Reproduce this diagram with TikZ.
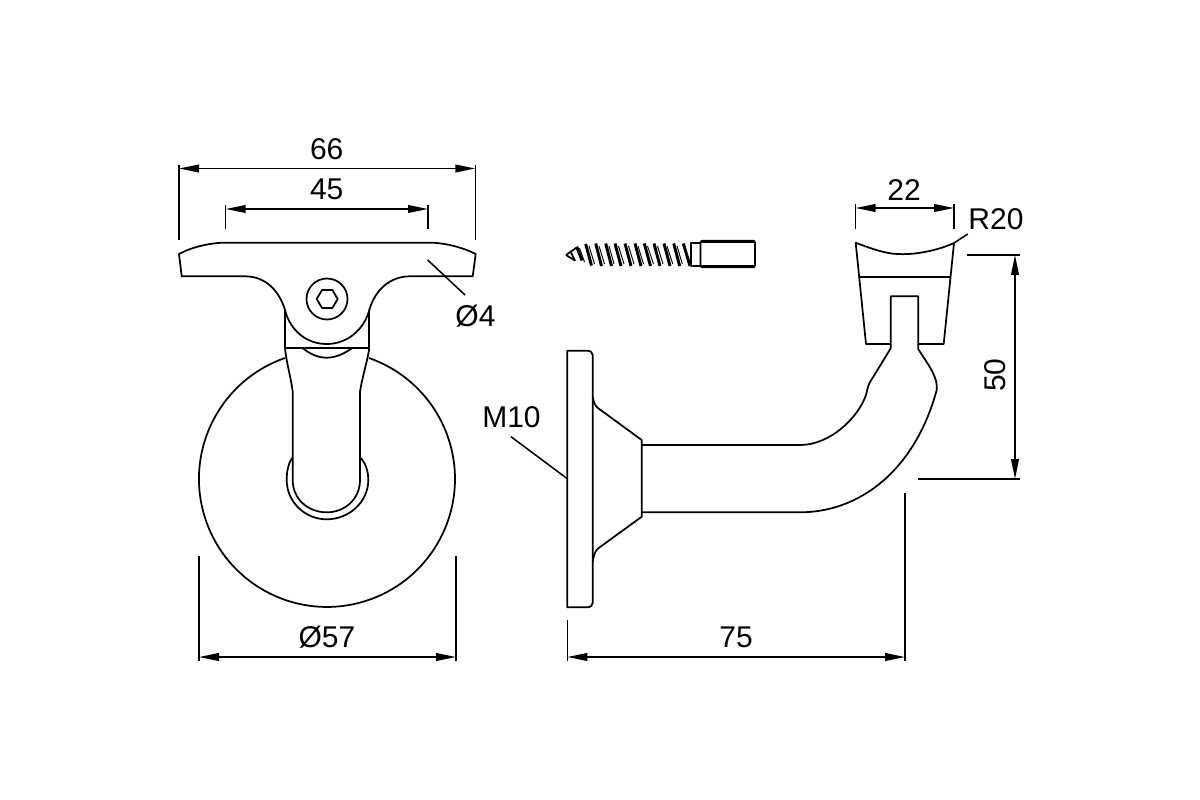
\documentclass[tikz,border=0pt]{standalone}
\usepackage{fontspec}
\setmainfont{Liberation Sans}
\usetikzlibrary{arrows.meta}
\tikzset{
  outline/.style={line width=1.3pt, line join=round},
  thinline/.style={line width=1.15pt},
  dimline/.style={line width=1.15pt, {Triangle[length=15pt,width=5.8pt]}-{Triangle[length=15pt,width=5.8pt]}},
  crest/.style={line width=2.2pt},
  root/.style={line width=0.7pt},
  dimlabel/.style={inner sep=0.75pt, font=\fontsize{22.5}{22.5}\selectfont},
}
\begin{document}
\begin{tikzpicture}[x=0.75pt,y=0.75pt,yscale=-1,xscale=1]
    \useasboundingbox (0,0) rectangle (1200,800);

    %Saddle, front view
    \draw [outline] (222,242.7) -- (433,242.7) .. controls (447,243.5) and (463,247.5) .. (475.7,254) -- (472.7,276.3) -- (410,276.3) .. controls (390,276.3) and (375,290) .. (369.3,310) .. controls (364,330) and (347,344) .. (326.7,344) .. controls (306,344) and (290,330) .. (285,310) .. controls (279,290) and (265,276.3) .. (245,276.3) -- (181.7,276.3) -- (179,254) .. controls (191,247.5) and (207,243.5) .. (222,242.7) -- cycle ;
    %Bolt
    \draw [outline] (327,299) circle [radius=20.5] ;
    \draw [outline] (316.7,299) -- (322,290) -- (332.4,290) -- (337.7,299) -- (332.4,308) -- (322,308) -- cycle ;
    %Joint
    \draw [outline] (285,310) -- (285,348.3) -- (369.3,348.3) -- (369.3,310) ;
    \draw [outline] (303,348.3) .. controls (310,354) and (318,357.7) .. (326.7,357.7) .. controls (335,357.7) and (344,354) .. (351.7,348.3) ;
    %Stem
    \draw [outline] (285,348.3) .. controls (286.5,363) and (291,378) .. (292.7,391.7) -- (292.7,480) .. controls (292.7,499) and (308,512.3) .. (326.7,512.3) .. controls (345,512.3) and (360,499) .. (360,480) -- (360,391.7) .. controls (362,378) and (367,363) .. (369.3,348.3) ;
    %Ring round the stem
    \draw [outline] (292,458) .. controls (288,464) and (286.7,472) .. (286.7,480) .. controls (286.7,502) and (305,519.3) .. (326.7,519.3) .. controls (349,519.3) and (368.3,502) .. (368.3,480) .. controls (368.3,472) and (366,464) .. (361,458) ;
    %Wall plate, front view
    \draw [outline] (285,358) arc [start angle=250.86, end angle=-70.86, radius=128] ;

    %Screw thread
    \draw [outline] (566,255) -- (576.7,247.5) ;
    \draw [outline] (566,255) -- (575,260.5) -- (571,252.5) ;
    \draw [crest] (576.7,246.7) -- (582,260.5) ;
    \draw [crest] (585.7,244) -- (591.5,265.5) ;
    \draw [crest] (595.7,243.5) -- (601.5,266) ;
    \draw [crest] (605.7,243.5) -- (611.5,266) ;
    \draw [crest] (615,243.5) -- (621,266) ;
    \draw [crest] (625,243.5) -- (631,266) ;
    \draw [crest] (635,243.5) -- (641,266) ;
    \draw [crest] (644.3,243.5) -- (650.5,266) ;
    \draw [crest] (654,243.5) -- (660,266) ;
    \draw [crest] (664,243.5) -- (670,266) ;
    \draw [crest] (673.7,243.5) -- (679.7,266) ;
    \draw [crest] (683.3,243.5) -- (690,266) ;
    \draw [root] (579.5,248) -- (584.5,262) ;
    \draw [root] (589,246) -- (594.5,264) ;
    \draw [root] (599,246) -- (604.5,264) ;
    \draw [root] (609,246) -- (614,264) ;
    \draw [root] (618.5,246) -- (624,264) ;
    \draw [root] (628.5,246) -- (634,264) ;
    \draw [root] (638,246) -- (643.5,264) ;
    \draw [root] (647.5,246) -- (653.5,264) ;
    \draw [root] (657.5,246) -- (663,264) ;
    \draw [root] (667,246) -- (672.7,264) ;
    \draw [root] (677,246) -- (682.3,264) ;
    %Screw neck and shank
    \draw [outline] (700.5,243.3) -- (690.7,243.3) -- (690.7,266) -- (700.5,266) ;
    \draw [outline, rounded corners=1.5pt] (700.5,240.7) rectangle (755,267.3) ;
    \draw [outline] (700.5,242) -- (755,242) ;
    \draw [outline] (700.5,266) -- (755,266) ;

    %Wall plate, side view
    \draw [outline] (567.3,350.7) -- (586.7,350.7) .. controls (590.5,350.7) and (592.7,352.5) .. (592.7,355) -- (592.7,603) .. controls (592.7,605.5) and (590.5,607.3) .. (586.7,607.3) -- (567.3,607.3) -- cycle ;
    %Flare
    \draw [outline] (592.7,396.7) .. controls (593.5,402) and (595,406) .. (598.3,408.3) -- (641.7,440) -- (641.7,516.7) -- (598.3,548.3) .. controls (595,551) and (593.5,556) .. (592.7,561.7) ;
    %Arm
    \draw [outline] (641.7,445) -- (800,445) .. controls (830,445) and (858,418) .. (866,395) .. controls (867,391) and (868,386) .. (869.3,383.3) -- (890.7,348.3) -- (890.7,344) ;
    \draw [outline] (641.7,512.3) -- (800,512.3) .. controls (860,512.3) and (915,470) .. (936.7,390) .. controls (938,378) and (930,367) .. (918.3,349.3) -- (918.3,344) ;
    %Saddle, side view
    \draw [outline] (855.7,242.7) .. controls (867,247) and (880,252) .. (893,253.7) .. controls (900,254.3) and (906,254.3) .. (913,253.7) .. controls (928,252) and (942,248.5) .. (954,243) -- (943.7,344) -- (918.3,344) -- (918.3,296.3) -- (890.7,296.3) -- (890.7,344) -- (866,344) -- cycle ;
    \draw [outline] (859.7,276.7) -- (950.3,276.7) ;

    %Dimension ends
    \coordinate (d66a) at (179,168.5) ;
    \coordinate (d66b) at (475.3,168.5) ;
    \coordinate (d45a) at (225.7,209) ;
    \coordinate (d45b) at (428,209) ;
    \coordinate (d57a) at (199,657) ;
    \coordinate (d57b) at (456,657) ;
    \coordinate (d75a) at (567.3,657) ;
    \coordinate (d75b) at (905,657) ;
    \coordinate (d50a) at (1015,255) ;
    \coordinate (d50b) at (1015,479) ;
    \coordinate (d22a) at (855.5,208) ;
    \coordinate (d22b) at (954,208) ;

    %Dimension lines
    \draw [dimline] (d66a) -- (d66b) ;
    \draw [dimline] (d45a) -- (d45b) ;
    \draw [dimline] (d57a) -- (d57b) ;
    \draw [dimline] (d75a) -- (d75b) ;
    \draw [dimline] (d50a) -- (d50b) ;
    \draw [dimline] (d22a) -- (d22b) ;

    %Extension lines
    \draw [thinline] (179,165) -- (179,240) ;
    \draw [thinline] (475.3,165) -- (475.3,240) ;
    \draw [thinline] (225.7,205) -- (225.7,229.3) ;
    \draw [thinline] (428,205) -- (428,229.3) ;
    \draw [thinline] (199,556) -- (199,661) ;
    \draw [thinline] (456,556) -- (456,661) ;
    \draw [thinline] (567.3,620) -- (567.3,661) ;
    \draw [thinline] (905,493) -- (905,661) ;
    \draw [thinline] (967,255) -- (1020,255) ;
    \draw [thinline] (918,479) -- (1020,479) ;
    \draw [thinline] (855.5,204) -- (855.5,229) ;
    \draw [thinline] (954,204) -- (954,229) ;

    %Leaders
    \coordinate (lead4a) at (427.7,260) ;
    \coordinate (lead4b) at (465,295) ;
    \coordinate (lead10a) at (511,436.7) ;
    \coordinate (lead10b) at (567.3,478.7) ;
    \coordinate (lead20a) at (954,243) ;
    \coordinate (lead20b) at (967.7,234) ;
    \draw [thinline] (lead4a) -- (lead4b) ;
    \draw [thinline] (lead10a) -- (lead10b) ;
    \draw [thinline] (lead20a) -- (lead20b) ;

    % Text Node
    \draw (326.7,149) node [dimlabel] (lbl66) {66};
    % Text Node
    \draw (326.7,189.3) node [dimlabel] (lbl45) {45};
    % Text Node
    \draw (475.5,316) node [dimlabel] (lbl4) {Ø4};
    % Text Node
    \draw (327,637) node [dimlabel] (lbl57) {Ø57};
    % Text Node
    \draw (736,637) node [dimlabel] (lbl75) {75};
    % Text Node
    \draw (511.5,417) node [dimlabel] (lbl10) {M10};
    % Text Node
    \draw (904,190) node [dimlabel] (lbl22) {22};
    % Text Node
    \draw (996,219) node [dimlabel] (lbl20) {R20};
    % Text Node
    \draw (995,375) node [dimlabel, rotate=90] (lbl50) {50};
\end{tikzpicture}
\end{document}
